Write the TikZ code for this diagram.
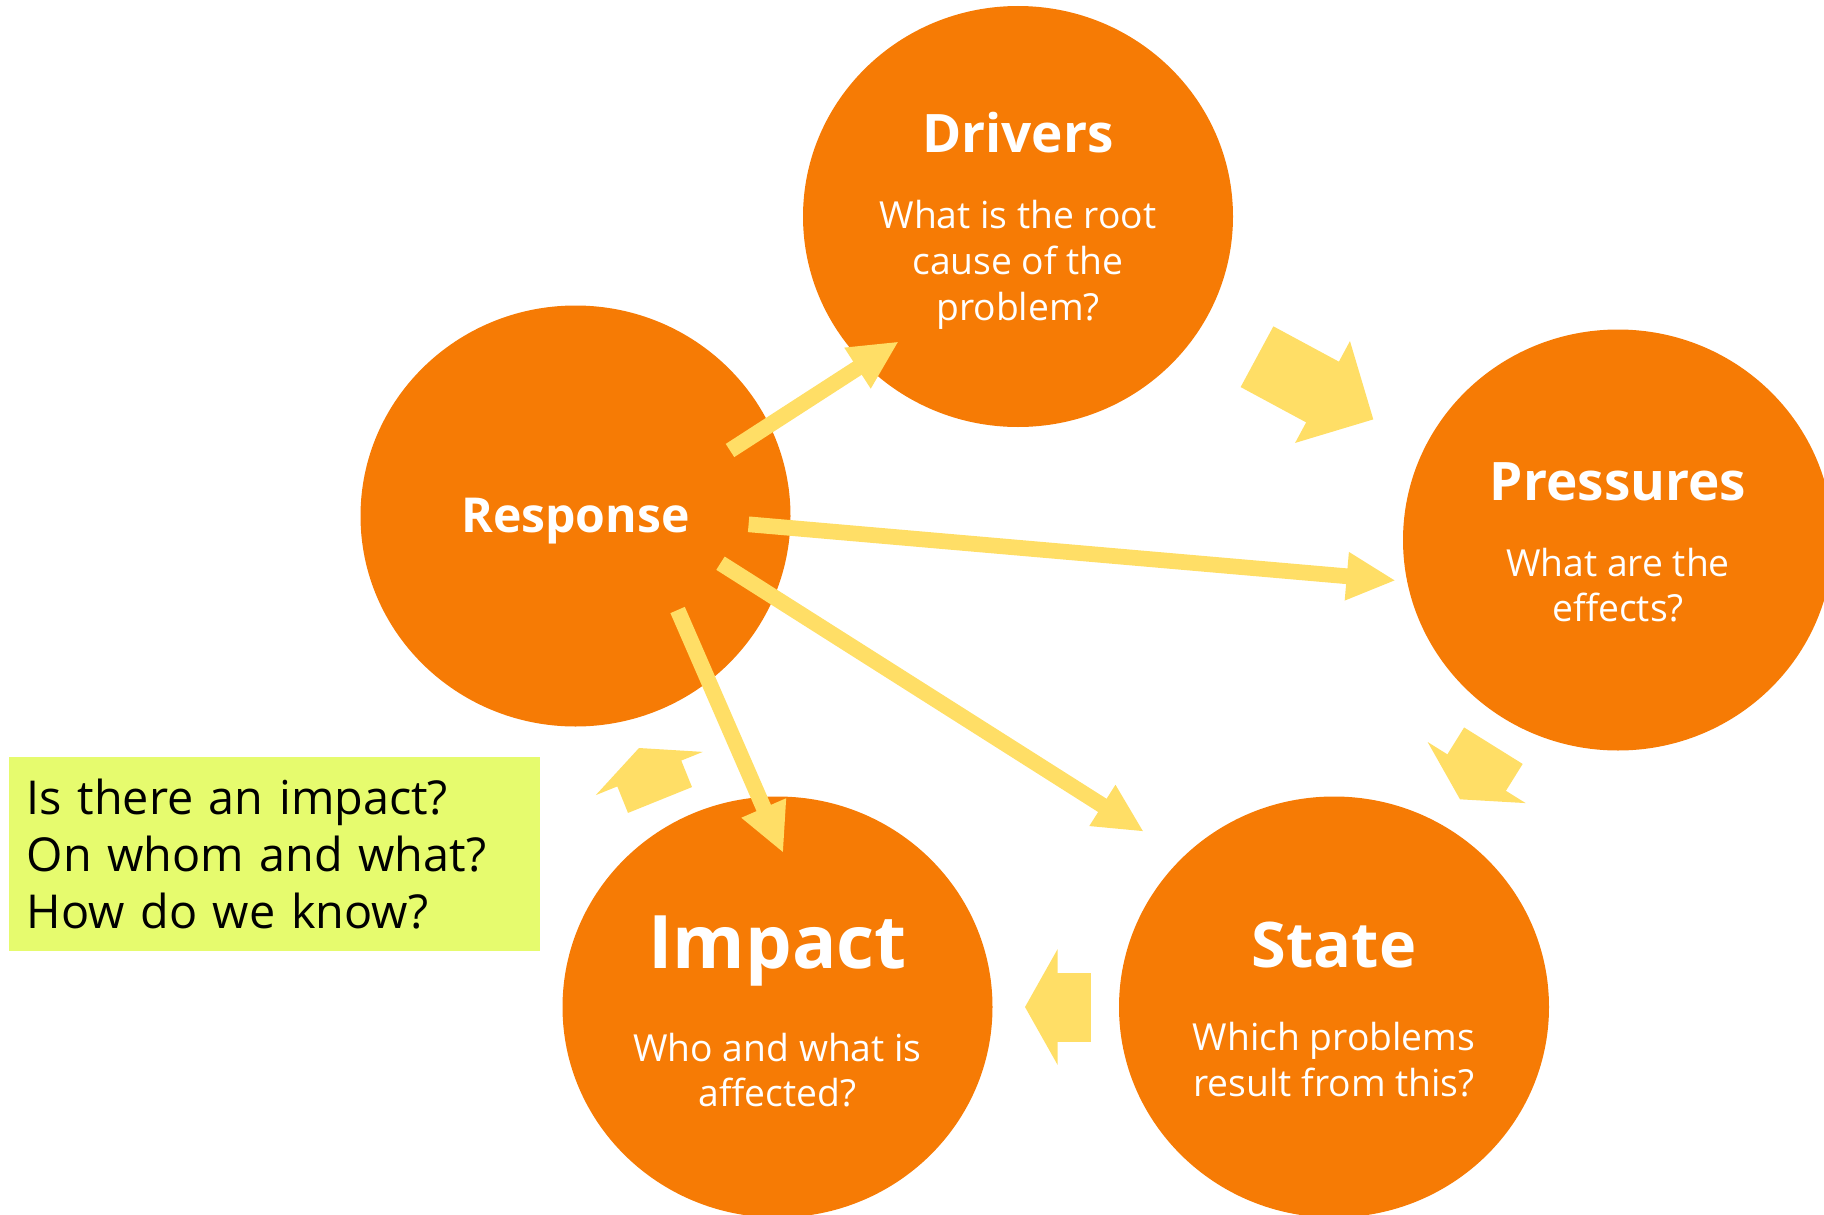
\documentclass[tikz,border=0pt]{standalone}
\usepackage{fontspec}
\setmainfont{Open Sans}
\usepackage{xcolor}
\usepackage{tikz}
\usetikzlibrary{shapes.geometric, arrows.meta}

\definecolor{dpsirorange}{RGB}{246,123,5}
\definecolor{dpsiryellow}{RGB}{255,222,102}
\definecolor{dpsirlime}{RGB}{230,251,110}

\begin{document}
\begin{tikzpicture}[
    stage/.style={ellipse, fill=dpsirorange, inner sep=0pt, minimum width=4.30cm, minimum height=4.21cm},
    stagetitle/.style={text=white, anchor=base, inner sep=0pt},
    question/.style={text=white, align=center, anchor=base, inner sep=0pt, font=\fontsize{10.6}{13}\selectfont},
    thinarrow/.style={draw=dpsiryellow, line width=0.157cm, -{Triangle[length=0.48cm, width=0.48cm, line width=1pt]}},
    blockarrow/.style={draw=dpsiryellow, line width=0.69cm, -{Triangle[length=#1, width=1.15cm, line width=1pt]}}
]
    \useasboundingbox (0,0) rectangle (18.24,12.14);

    % the five stages
    \node[stage] (drivers) at (10.18,9.975) {};
    \node[stage] (response) at (5.755,6.98) {};
    \node[stage] (pressures) at (16.18,6.74) {};
    \node[stage] (state) at (13.34,2.07) {};
    \node[stage] (impact) at (7.775,2.07) {};

    % titles and questions (question nodes sit on their last line)
    \node[stagetitle, font=\fontsize{15.1}{18}\selectfont\bfseries] (drivers-t) at ([yshift=0.64cm]drivers.center) {Drivers};
    \node[question] (drivers-q) at ([yshift=-1.035cm]drivers.center) {What is the root\\cause of the\\problem?};
    \node[stagetitle, font=\fontsize{13.7}{16}\selectfont\bfseries] (response-t) at ([yshift=-0.163cm]response.center) {Response};
    \node[stagetitle, font=\fontsize{15.1}{18}\selectfont\bfseries] (pressures-t) at ([yshift=0.40cm]pressures.center) {Pressures};
    \node[question] (pressures-q) at ([yshift=-0.817cm]pressures.center) {What are the\\effects?};
    \node[stagetitle, font=\fontsize{17.9}{21}\selectfont\bfseries] (state-t) at ([yshift=0.393cm]state.center) {State};
    \node[question] (state-q) at ([yshift=-0.89cm]state.center) {Which problems\\result from this?};
    \node[stagetitle, font=\fontsize{21}{25}\selectfont\bfseries] (impact-t) at ([yshift=0.387cm]impact.center) {Impact};
    \node[question] (impact-q) at ([yshift=-0.997cm]impact.center) {Who and what is\\affected?};

    % question box
    \node[fill=dpsirlime, anchor=north west, align=left, text width=4.95cm, inner xsep=0.18cm, inner ysep=0pt,
        minimum width=5.31cm, minimum height=1.94cm, font=\fontsize{13.3}{16.2}\selectfont] (qbox) at (0.08,4.58)
        {Is there an impact?\\On whom and what?\\How do we know?};

    % arrows from response
    \coordinate (resp-d) at (7.30,7.635);
    \coordinate (drv-in) at (8.978,8.719);
    \coordinate (resp-p) at (7.486,6.897);
    \coordinate (prs-in) at (13.946,6.336);
    \coordinate (resp-s) at (7.205,6.508);
    \coordinate (sta-in) at (11.429,3.829);
    \coordinate (resp-i) at (6.776,6.04);
    \coordinate (imp-in) at (7.829,3.62);
    \draw[thinarrow] (resp-d) -- (drv-in);
    \draw[thinarrow] (resp-p) -- (prs-in);
    \draw[thinarrow] (resp-s) -- (sta-in);
    \draw[thinarrow] (resp-i) -- (imp-in);

    % the cycle
    \coordinate (drv-out) at (12.57,8.573);
    \coordinate (prs-tip) at (13.733,7.946);
    \coordinate (prs-out) at (14.934,4.683);
    \coordinate (sta-tip) at (14.60,4.147);
    \coordinate (sta-out) at (10.91,2.07);
    \coordinate (imp-tip) at (10.25,2.07);
    \coordinate (imp-out) at (6.60,4.14);
    \coordinate (resp-tip) at (6.39,4.66);
    \draw[blockarrow=0.577cm] (drv-out) -- (prs-tip);
    \draw[blockarrow=0.315cm] (prs-out) -- (sta-tip);
    \draw[blockarrow=0.325cm] (sta-out) -- (imp-tip);
    \draw[blockarrow=0.275cm] (imp-out) -- (resp-tip);
\end{tikzpicture}
\end{document}
